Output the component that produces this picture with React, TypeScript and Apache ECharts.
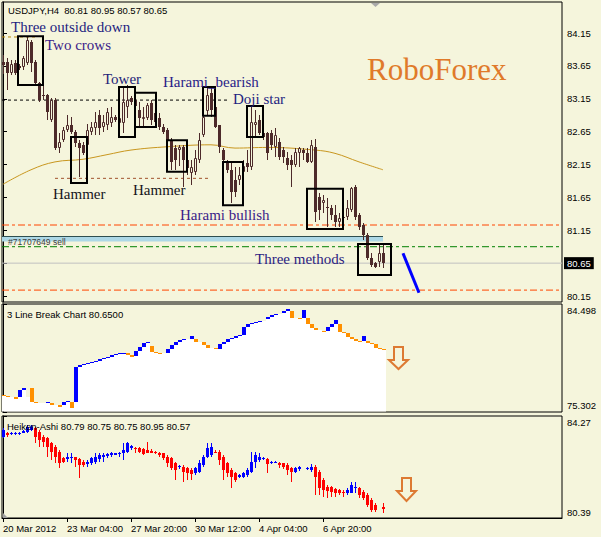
import React, { useEffect, useRef } from "react";
import * as echarts from "echarts";

const BG = "#F5F5DC";
const FONT_UI = '"Liberation Sans", Arial, sans-serif';
const FONT_SERIF = '"Liberation Serif", "Times New Roman", serif';
const CANDLE = "#4D2A2A";

const symbolTitle = "USDJPY,H4  80.81 80.95 80.57 80.65";
const lbTitle = "3 Line Break Chart 80.6500";
const haTitle = "Heiken-Ashi 80.79 80.75 80.75 80.95 80.57";
const orderLabel = "#71707649 sell";

const priceTicks = [84.15, 83.65, 83.15, 82.65, 82.15, 81.65, 81.15, 80.65, 80.15];
const priceRange = [80.059, 84.622];
const currentPrice = 80.65;
const lbRange = [75.302, 84.498];
const haRange = [80.39, 84.27];
const timeTickIdx = [0, 16, 32, 48, 64, 80];
const timeTickLabels = ["20 Mar 2012", "23 Mar 04:00", "27 Mar 20:00", "30 Mar 12:00", "4 Apr 04:00", "6 Apr 20:00"];

// [open, close, low, high]
const candles = [
  [83.71, 83.66, 83.53, 83.82], [83.71, 83.54, 83.28, 83.77], [83.54, 83.68, 83.51, 83.74], [83.69, 83.54, 83.51, 83.74],
  [83.65, 83.62, 83.59, 83.68], [83.63, 83.77, 83.59, 83.80], [83.69, 84.04, 83.66, 84.09], [84.01, 83.69, 83.56, 84.04],
  [83.71, 83.39, 83.36, 83.74], [83.39, 83.13, 83.10, 83.40], [83.21, 83.19, 83.13, 83.36], [83.21, 82.95, 82.83, 83.22],
  [82.83, 83.13, 82.80, 83.16], [83.13, 82.40, 82.37, 83.16], [82.40, 82.49, 82.33, 82.63], [82.52, 82.68, 82.49, 82.72],
  [82.68, 82.75, 82.64, 82.90], [82.75, 82.64, 82.61, 82.87], [82.64, 82.48, 82.42, 82.68], [82.48, 82.40, 81.96, 82.52],
  [82.45, 82.32, 82.30, 82.49], [82.45, 82.68, 82.37, 82.77], [82.64, 82.72, 82.60, 82.80], [82.71, 82.80, 82.60, 82.95],
  [82.90, 82.71, 82.60, 82.98], [82.72, 82.80, 82.64, 82.90], [82.75, 82.95, 82.68, 83.01], [82.78, 82.87, 82.72, 83.03],
  [82.87, 82.83, 82.80, 82.90], [82.78, 82.86, 82.72, 82.89], [82.78, 83.10, 82.63, 83.33], [83.02, 83.13, 82.86, 83.36],
  [83.16, 83.10, 83.06, 83.19], [83.13, 83.04, 82.95, 83.19], [82.98, 82.86, 82.72, 83.10], [82.84, 82.87, 82.72, 83.02],
  [82.86, 83.06, 82.83, 83.09], [83.09, 82.83, 82.75, 83.13], [82.93, 82.80, 82.75, 82.98], [82.86, 82.72, 82.68, 82.93],
  [82.72, 82.64, 82.61, 82.77], [82.68, 82.52, 82.49, 82.71], [82.52, 82.19, 82.07, 82.55], [82.40, 82.22, 82.07, 82.45],
  [82.37, 82.42, 82.13, 82.45], [82.42, 82.22, 81.81, 82.45], [82.22, 82.10, 81.99, 82.26], [82.02, 82.11, 81.84, 82.22],
  [82.04, 82.25, 81.99, 82.37], [82.22, 82.52, 82.17, 82.63], [82.60, 82.87, 82.57, 82.90], [82.96, 83.21, 82.90, 83.31],
  [83.24, 82.98, 82.87, 83.31], [83.03, 82.72, 82.71, 83.09], [82.75, 82.42, 82.33, 82.75], [82.37, 82.22, 82.19, 82.40],
  [82.17, 82.07, 82.02, 82.22], [82.07, 81.73, 81.56, 82.17], [81.91, 81.73, 81.66, 82.11], [81.91, 81.99, 81.84, 82.11],
  [82.04, 82.13, 81.99, 82.22], [82.17, 82.11, 82.04, 82.37], [82.11, 82.80, 82.07, 83.02], [82.75, 82.80, 82.57, 82.98],
  [82.83, 82.63, 82.60, 82.90], [82.63, 82.57, 82.52, 82.70], [82.63, 82.32, 82.22, 82.64], [82.63, 82.45, 82.37, 82.68],
  [82.42, 82.60, 82.26, 82.70], [82.49, 82.26, 82.22, 82.55], [82.37, 82.26, 82.17, 82.42], [82.25, 82.14, 82.07, 82.34],
  [82.22, 82.14, 81.81, 82.30], [82.14, 82.34, 82.11, 82.40], [82.32, 82.40, 82.11, 82.42], [82.37, 82.32, 82.22, 82.40],
  [82.32, 82.19, 82.17, 82.40], [82.19, 82.45, 82.17, 82.52], [82.42, 81.43, 81.28, 82.54], [81.66, 81.46, 81.31, 81.72],
  [81.57, 81.61, 81.41, 81.69], [81.50, 81.49, 81.20, 81.64], [81.49, 81.38, 81.31, 81.53], [81.38, 81.28, 81.20, 81.53],
  [81.28, 81.34, 81.20, 81.41], [81.35, 81.34, 81.31, 81.38], [81.35, 81.49, 81.31, 81.61], [81.46, 81.79, 81.43, 81.81],
  [81.81, 81.35, 81.31, 81.84], [81.38, 81.20, 81.15, 81.41], [81.23, 81.08, 81.00, 81.26], [81.08, 80.73, 80.70, 81.11],
  [80.73, 80.62, 80.59, 80.80], [80.65, 80.59, 80.58, 80.67], [80.67, 80.80, 80.59, 80.93], [80.81, 80.65, 80.57, 80.95],
];

// moving average, [bar index, value]
const maPoints = [
  [0, 81.85], [7, 82.07], [13, 82.19], [20, 82.23], [26, 82.30], [32, 82.37], [41, 82.42],
  [52, 82.45], [58, 82.40], [66, 82.41], [78, 82.37], [83, 82.32], [89, 82.19], [95, 82.07],
];

// level lines
const topDashLevel = 84.09;
const topDashSpan = [-0.25, 8.5];
const patternDashLevel = 83.13;
const patternDashSpan = [-0.25, 56.5];
const hammerDashLevel = 81.94;
const hammerDashSpan = [13, 51.5];
const redLevelHigh = 81.23;
const greenLevel = 80.9;
const redLevelLow = 80.24;
const fullSpan = [-0.25, 139.75];
const tradeBandSpan = [-0.25, 95];
const tradeBandPrices = [81.06, 80.98];
const trendArrow = [[100, 80.8], [104, 80.2]];

// pattern boxes: [x0, x1, top price, bottom price]
const patternBoxes = [
  [3.75, 10, 84.1, 83.36],
  [29, 33, 83.33, 82.57],
  [33, 38.25, 83.24, 82.72],
  [17, 21, 82.57, 81.87],
  [41, 46, 82.52, 82.04],
  [50, 53, 83.33, 82.89],
  [55, 60, 82.19, 81.53],
  [61, 65, 83.04, 82.57],
  [76, 85, 81.78, 81.17],
  [88.75, 97, 80.94, 80.47],
];

// 3 line break: low, high, direction (1 up, -1 down, 0 none)
const lbLow = [
  76.66, 76.61, 76.61, 76.41, 76.61, 77.18, 76.61, 76.18, 76.10, 76.10, 76.10, 76.07, 75.93, 75.93, 75.76, 75.90,
  76.15, 75.67, 76.15, 79.16, 79.28, 79.39, 79.50, 79.59, 79.67, 79.79, 79.87, 80.01, 80.16, 80.24, 80.30, 80.16,
  79.96, 80.10, 80.50, 80.87, 81.15, 80.44, 80.35, 80.30, 80.30, 80.30, 80.67, 81.01, 81.23, 81.43, 81.55, 81.55,
  81.29, 81.29, 81.01, 80.72, 80.72, 80.64, 80.67, 81.09, 81.29, 81.49, 81.63, 81.77, 81.89, 82.57, 82.77, 82.85,
  82.94, 83.05, 83.19, 83.36, 83.53, 83.65, 83.70, 83.90, 83.33, 83.33, 83.19, 83.33, 82.80, 82.43, 82.28, 82.28,
  82.09, 82.23, 82.57, 82.80, 82.14, 82.00, 81.72, 81.49, 81.35, 81.29, 81.38, 81.21, 81.09, 80.72, 80.64, 80.62,
];
const lbHigh = [
  76.72, 76.66, 76.61, 76.55, 77.18, 77.35, 76.61, 77.35, 76.18, 76.10, 76.10, 76.15, 76.07, 75.93, 75.90, 76.15,
  76.27, 76.15, 79.16, 79.30, 79.39, 79.50, 79.59, 79.67, 79.79, 79.87, 80.01, 80.16, 80.24, 80.30, 80.35, 80.30,
  80.16, 80.50, 80.87, 81.15, 81.29, 80.95, 80.44, 80.35, 80.30, 80.67, 81.01, 81.23, 81.43, 81.55, 81.55, 81.77,
  81.55, 81.29, 81.29, 81.01, 80.72, 80.72, 81.09, 81.29, 81.49, 81.63, 81.77, 81.89, 82.57, 82.77, 82.85, 82.94,
  83.05, 83.05, 83.36, 83.53, 83.65, 83.65, 83.90, 84.04, 83.90, 83.33, 83.33, 83.99, 83.28, 82.80, 82.43, 82.28,
  82.23, 82.57, 82.80, 83.14, 82.80, 82.14, 82.00, 81.72, 81.49, 81.38, 81.77, 81.38, 81.21, 81.09, 80.72, 80.65,
];
const lbDir = [
  -1, -1, 0, -1, 1, 1, 0, -1, -1, 0, 0, 1, -1, 0, -1, 1,
  1, -1, 1, 1, 1, 1, 1, 1, 1, 1, 1, 1, 1, 1, 1, -1,
  -1, 1, 1, 1, 1, -1, -1, -1, 0, 1, 1, 1, 1, 1, 0, 1,
  -1, 0, -1, -1, 0, -1, 1, 1, 1, 1, 1, 1, 1, 1, 1, 1,
  1, 0, 1, 1, 1, 0, 1, 1, -1, 0, -1, 1, -1, -1, -1, 0,
  -1, 1, 1, 1, -1, -1, -1, -1, -1, -1, 1, -1, -1, -1, -1, -1,
];

// Heiken Ashi [open, close, low, high]
const haBars: (number[] | null)[] = [
  [83.48, 83.74, 83.42, 83.8], [83.61, 83.56, 83.48, 83.67], [83.585, 83.64, 83.55, 83.67], [83.585, 83.64, 83.55, 83.67],
  [83.61, 83.64, 83.56, 83.67], [83.64, 83.71, 83.61, 83.74], [83.67, 83.86, 83.61, 83.93], [83.74, 83.86, 83.71, 83.93],
  [83.8, 83.48, 83.23, 83.86], [83.67, 83.36, 83.1, 83.74], [83.48, 83.29, 83.1, 83.55], [83.42, 83.1, 82.72, 83.48],
  [83.23, 82.91, 82.6, 83.29], [83.1, 82.72, 82.47, 83.17], [82.91, 82.47, 82.28, 82.98], [82.66, 82.53, 82.47, 82.72],
  [82.62, 82.72, 82.53, 82.85], [82.66, 82.72, 82.49, 82.88], [82.7, 82.6, 82.34, 82.72], [82.62, 82.4, 81.9, 82.66],
  [82.53, 82.4, 82.34, 82.6], [82.44, 82.53, 82.34, 82.6], [82.47, 82.66, 82.4, 82.72], [82.53, 82.72, 82.44, 82.88],
  [82.62, 82.79, 82.53, 82.88], [82.72, 82.79, 82.53, 82.85], [82.75, 82.82, 82.66, 82.88], [82.79, 82.88, 82.72, 82.91],
  [82.79, 82.85, 82.79, 82.85], [82.82, 82.85, 82.72, 82.89], [82.85, 82.98, 82.6, 83.23], [82.91, 83.23, 82.85, 83.29],
  [83.04, 83.13, 82.98, 83.17], [83.04, 83.0, 82.85, 83.08], [83.04, 82.91, 82.85, 83.08], [83.0, 82.82, 82.79, 83.04],
  [82.98, 82.88, 82.85, 83.29], [82.95, 82.88, 82.85, 83.0], [82.91, 82.85, 82.82, 82.95], [82.88, 82.79, 82.72, 82.91],
  [82.85, 82.66, 82.6, 82.88], [82.72, 82.47, 82.34, 82.79], [82.66, 82.28, 82.22, 82.72], [82.47, 82.22, 81.84, 82.53],
  [82.32, 82.37, 82.24, 82.4], [82.34, 82.15, 81.77, 82.4], [82.28, 82.09, 81.84, 82.34], [82.22, 82.06, 81.84, 82.28],
  [82.11, 82.28, 82.03, 82.34], [82.15, 82.47, 82.09, 82.6], [82.4, 82.72, 82.34, 82.79], [82.72, 83.04, 82.66, 83.23],
  [82.79, 83.1, 82.72, 83.23], [82.91, 82.88, 82.85, 82.98], [82.91, 82.6, 82.4, 82.98], [82.72, 82.22, 81.84, 82.79],
  [82.47, 82.09, 81.96, 82.53], [82.22, 81.96, 81.52, 82.28], [82.09, 81.84, 81.77, 82.15], [81.96, 82.03, 81.9, 82.06],
  [81.96, 82.09, 81.9, 82.15], [82.03, 82.22, 81.96, 82.28], [82.15, 82.53, 82.09, 82.91], [82.53, 82.79, 82.28, 82.91],
  [82.6, 82.72, 82.53, 82.85], [82.62, 82.66, 82.6, 82.7], [82.62, 82.44, 82.09, 82.66], [82.47, 82.53, 82.44, 82.57],
  [82.49, 82.53, 82.47, 82.57], [82.49, 82.4, 82.28, 82.53], [82.47, 82.32, 82.24, 82.49], [82.4, 82.22, 82.03, 82.47],
  [82.28, 82.15, 81.77, 82.34], [82.15, 82.28, 82.09, 82.34], [82.24, 82.32, 82.19, 82.37], null,
  [82.24, 82.28, 82.22, 82.34], [82.22, 82.32, 82.15, 82.44], [82.32, 81.96, 81.26, 82.4], [82.15, 81.52, 81.26, 82.22],
  [81.84, 81.46, 81.2, 81.9], [81.58, 81.43, 81.14, 81.65], [81.56, 81.39, 81.18, 81.61], [81.48, 81.35, 81.18, 81.52],
  [81.46, 81.33, 81.26, 81.48], [81.39, 81.33, 81.2, 81.46], [81.35, 81.46, 81.26, 81.52], [81.35, 81.65, 81.33, 81.77],
  [81.52, 81.56, 81.33, 81.77], [81.52, 81.26, 81.14, 81.56], [81.39, 81.14, 81.07, 81.46], [81.26, 80.88, 80.82, 81.33],
  [81.07, 80.69, 80.63, 81.14], [80.88, 80.69, 80.63, 80.95], null, [80.79, 80.75, 80.57, 80.95],
];

const X_MIN = -0.25;
const X_MAX = 139.75;

function renderCandle(params: any, api: any) {
  const x = api.value(0);
  const o = api.value(1), c = api.value(2), l = api.value(3), h = api.value(4);
  const pO = api.coord([x, o]);
  const pC = api.coord([x, c]);
  const pL = api.coord([x, l]);
  const pH = api.coord([x, h]);
  const cx = Math.round(pO[0]);
  const top = Math.round(Math.min(pO[1], pC[1]));
  const bot = Math.round(Math.max(pO[1], pC[1]));
  const children: any[] = [
    { type: "line", shape: { x1: cx + 0.5, y1: Math.round(pH[1]), x2: cx + 0.5, y2: Math.round(pL[1]) }, style: { stroke: CANDLE, lineWidth: 1 } },
  ];
  if (c >= o) {
    children.push({ type: "rect", shape: { x: cx - 0.5, y: top + 0.5, width: 2, height: Math.max(bot - top - 1, 0) }, style: { fill: BG, stroke: CANDLE, lineWidth: 1 } });
  } else {
    children.push({ type: "rect", shape: { x: cx - 1, y: top, width: 3, height: Math.max(bot - top, 1) }, style: { fill: CANDLE } });
  }
  return { type: "group", children };
}

function renderHA(params: any, api: any) {
  const x = api.value(0);
  const o = api.value(1), c = api.value(2), l = api.value(3), h = api.value(4);
  const color = c >= o ? "#0000FF" : "#FF0000";
  const pO = api.coord([x, o]);
  const pC = api.coord([x, c]);
  const pL = api.coord([x, l]);
  const pH = api.coord([x, h]);
  const cx = Math.round(pO[0]);
  const top = Math.round(Math.min(pO[1], pC[1]));
  const bot = Math.round(Math.max(pO[1], pC[1]));
  return {
    type: "group",
    children: [
      { type: "line", shape: { x1: cx + 0.5, y1: Math.round(pH[1]), x2: cx + 0.5, y2: Math.round(pL[1]) }, style: { stroke: color, lineWidth: 1 } },
      { type: "rect", shape: { x: cx - 1, y: top, width: 3, height: Math.max(bot - top, 1) }, style: { fill: color } },
    ],
  };
}

function renderLB(params: any, api: any) {
  const k = api.value(0), lo = api.value(1), hi = api.value(2), dir = api.value(3);
  const cs = params.coordSys;
  const pLo = api.coord([k, lo]);
  const pHi = api.coord([k, hi]);
  const x = Math.round(pLo[0]) - 1;
  const bottom = cs.y + cs.height - 0.5;
  const yLo = Math.round(pLo[1]);
  const yHi = Math.round(pHi[1]);
  const children: any[] = [{ type: "rect", shape: { x, y: yLo, width: 4, height: bottom - yLo }, style: { fill: "#FFFFFF" } }];
  if (dir !== 0) {
    children.push({ type: "rect", shape: { x, y: yHi, width: 4, height: Math.max(yLo - yHi, 1) }, style: { fill: dir > 0 ? "#0000FF" : "#FF9000" } });
  }
  return { type: "group", children };
}

function renderBox(params: any, api: any) {
  const a = api.coord([api.value(0), api.value(2)]);
  const b = api.coord([api.value(1), api.value(3)]);
  return { type: "rect", shape: { x: a[0], y: a[1], width: b[0] - a[0], height: b[1] - a[1] }, style: { fill: "none", stroke: "#000", lineWidth: 2 } };
}

function renderBand(params: any, api: any) {
  const a = api.coord([api.value(0), api.value(2)]);
  const b = api.coord([api.value(1), api.value(3)]);
  return {
    type: "group",
    children: [
      { type: "rect", shape: { x: a[0], y: a[1], width: b[0] - a[0], height: b[1] - a[1] }, style: { fill: "#ADD8E6" } },
      { type: "line", shape: { x1: a[0], y1: Math.round(a[1]) + 0.5, x2: b[0], y2: Math.round(a[1]) + 0.5 }, style: { stroke: "#2F4F4F", lineWidth: 1 } },
    ],
  };
}

function levelLine(span: number[], price: number, color: string, type: any, width = 1) {
  return {
    type: "line", xAxisIndex: 0, yAxisIndex: 0, silent: true, symbol: "none", z: 1,
    data: [[span[0], price], [span[1], price]],
    lineStyle: { color, width, type },
  };
}

function txt(x: number, y: number, text: string, font: string, fill: string) {
  return { type: "text", x, y, z: 100, silent: true, style: { text, font, fill, textVerticalAlign: "middle", verticalAlign: "middle" } };
}

function buildOption(): any {
  const uiFont = `9.5px ${FONT_UI}`;
  const serif = `15px ${FONT_SERIF}`;
  const gridBase = { show: true, borderColor: "#000", borderWidth: 1, backgroundColor: BG };
  const xBase = { type: "value", min: X_MIN, max: X_MAX, splitLine: { show: false } };
  const labelText = { fontSize: 9.5, fontFamily: FONT_UI, color: "#000" };
  const yBase = {
    type: "value", position: "right", splitLine: { show: false },
    axisLine: { show: true, lineStyle: { color: "#000" } },
  };
  return {
    animation: false,
    backgroundColor: BG,
    textStyle: { fontFamily: FONT_UI },
    grid: [
      { ...gridBase, left: 2, top: 2, width: 560, height: 300 },
      { ...gridBase, left: 2, top: 304, width: 560, height: 108 },
      { ...gridBase, left: 2, top: 416, width: 560, height: 102 },
    ],
    xAxis: [
      { ...xBase, gridIndex: 0, show: false },
      { ...xBase, gridIndex: 1, show: false },
      {
        ...xBase, gridIndex: 2,
        axisLine: { show: true, lineStyle: { color: "#000" } },
        axisTick: { show: true, length: 4, customValues: timeTickIdx, lineStyle: { color: "#000" } },
        axisLabel: {
          customValues: timeTickIdx, align: "left", margin: 5, ...labelText,
          formatter: (v: number) => timeTickLabels[timeTickIdx.indexOf(Math.round(v))] ?? "",
        },
      },
    ],
    yAxis: [
      {
        ...yBase, gridIndex: 0, min: priceRange[0], max: priceRange[1],
        axisTick: { show: true, length: 4, customValues: priceTicks, lineStyle: { color: "#000" } },
        axisLabel: {
          customValues: priceTicks, margin: 2,
          formatter: (v: number) => (Math.abs(v - currentPrice) < 1e-6 ? `{cur|${v.toFixed(2)}}` : `{n|${v.toFixed(2)}}`),
          rich: {
            n: { ...labelText, padding: [0, 0, 0, 3] },
            cur: { ...labelText, color: "#FFFFFF", backgroundColor: "#000", padding: [1, 3, 1, 3] },
          },
        },
      },
      {
        ...yBase, gridIndex: 1, min: lbRange[0], max: lbRange[1],
        axisTick: { show: true, length: 4, customValues: lbRange, lineStyle: { color: "#000" } },
        axisLabel: {
          customValues: lbRange, margin: 2,
          formatter: (v: number) => (v > lbRange[0] + 1 ? `{t|${v.toFixed(3)}}` : `{b|${v.toFixed(3)}}`),
          rich: { t: { ...labelText, padding: [13, 0, 0, 3] }, b: { ...labelText, padding: [0, 0, 13, 3] } },
        },
      },
      {
        ...yBase, gridIndex: 2, min: haRange[0], max: haRange[1],
        axisTick: { show: true, length: 4, customValues: haRange, lineStyle: { color: "#000" } },
        axisLabel: {
          customValues: haRange, margin: 2,
          formatter: (v: number) => (v > haRange[0] + 1 ? `{t|${v.toFixed(2)}}` : `{b|${v.toFixed(2)}}`),
          rich: { t: { ...labelText, padding: [13, 0, 0, 3] }, b: { ...labelText, padding: [0, 0, 12, 3] } },
        },
      },
    ],
    series: [
      levelLine(topDashSpan, topDashLevel, "#B8860B", [3, 3]),
      levelLine(patternDashSpan, patternDashLevel, "#000000", [3, 3]),
      levelLine(hammerDashSpan, hammerDashLevel, "#A0522D", [3, 3]),
      levelLine(fullSpan, redLevelHigh, "#FF4500", [7, 3, 3, 3]),
      levelLine(fullSpan, greenLevel, "#008000", [7, 3, 3, 3]),
      levelLine(fullSpan, currentPrice, "#C0C0C0", "solid"),
      levelLine(fullSpan, redLevelLow, "#FF4500", [7, 3, 3, 3]),
      {
        type: "custom", xAxisIndex: 0, yAxisIndex: 0, silent: true, z: 2,
        renderItem: renderBand,
        encode: { x: [0, 1], y: [2, 3] },
        data: [[tradeBandSpan[0], tradeBandSpan[1], tradeBandPrices[0], tradeBandPrices[1]]],
      },
      {
        type: "line", xAxisIndex: 0, yAxisIndex: 0, silent: true, symbol: "none", smooth: 0.4, z: 3,
        data: maPoints, lineStyle: { color: "#C8961E", width: 1 },
      },
      {
        type: "custom", xAxisIndex: 0, yAxisIndex: 0, silent: true, z: 4,
        renderItem: renderCandle,
        encode: { x: 0, y: [1, 2, 3, 4] },
        data: candles.map((c, i) => [i, ...c]),
      },
      {
        type: "custom", xAxisIndex: 0, yAxisIndex: 0, silent: true, z: 5,
        renderItem: renderBox,
        encode: { x: [0, 1], y: [2, 3] },
        data: patternBoxes,
      },
      {
        type: "line", xAxisIndex: 0, yAxisIndex: 0, silent: true, symbol: "none", z: 5,
        data: trendArrow, lineStyle: { color: "#0000FF", width: 3 },
      },
      {
        type: "custom", xAxisIndex: 1, yAxisIndex: 1, silent: true, z: 3,
        renderItem: renderLB,
        encode: { x: 0, y: [1, 2] },
        data: lbLow.map((lo, k) => [k, lo, lbHigh[k], lbDir[k]]),
      },
      {
        type: "custom", xAxisIndex: 2, yAxisIndex: 2, silent: true, z: 3,
        renderItem: renderHA,
        encode: { x: 0, y: [1, 2, 3, 4] },
        data: haBars.map((b, i) => (b ? [i, ...b] : null)).filter((d) => d !== null),
      },
    ],
    graphic: [
      txt(8, 10, symbolTitle, uiFont, "#000"),
      txt(7, 314, lbTitle, uiFont, "#000"),
      txt(7, 426, haTitle, uiFont, "#000"),
      txt(8, 242, orderLabel, `8.5px ${FONT_UI}`, "#404040"),
      txt(11, 26.5, "Three outside down", serif, "#1E1E80"),
      txt(45, 44.5, "Two crows", serif, "#3A1C88"),
      txt(103, 78.5, "Tower", serif, "#1E1E78"),
      txt(163, 81.5, "Harami_bearish", serif, "#2A1C88"),
      txt(233, 98.5, "Doji star", serif, "#1E1E80"),
      txt(53, 193.5, "Hammer", serif, "#141420"),
      txt(133, 189.5, "Hammer", serif, "#141420"),
      txt(180, 214.5, "Harami bullish", serif, "#3A1C88"),
      txt(255, 258.5, "Three methods", serif, "#2A1C80"),
      txt(367, 69, "RoboForex", `31px ${FONT_SERIF}`, "#E07A2A"),
      {
        type: "polygon", z: 100, silent: true,
        shape: { points: [[394, 347], [403, 347], [403, 360], [408, 360], [398.5, 369], [389, 360], [394, 360]] },
        style: { fill: BG, stroke: "#DD7A33", lineWidth: 2 },
      },
      {
        type: "polygon", z: 100, silent: true,
        shape: { points: [[402, 478], [411, 478], [411, 491], [416, 491], [406.5, 501], [397, 491], [402, 491]] },
        style: { fill: BG, stroke: "#DD7A33", lineWidth: 2 },
      },
      { type: "polygon", z: 100, silent: true, shape: { points: [[371, 3], [380, 3], [375.5, 7]] }, style: { fill: "#A9A9A9" } },
      { type: "polygon", z: 100, silent: true, shape: { points: [[3, 513], [3, 518], [8, 518]] }, style: { fill: "#A0A0A0" } },
    ],
  };
}

export default function App() {
  const ref = useRef<HTMLDivElement>(null);
  useEffect(() => {
    if (!ref.current) return;
    const chart = echarts.init(ref.current, null, { renderer: "svg" });
    chart.setOption(buildOption());
    return () => chart.dispose();
  }, []);
  return <div ref={ref} style={{ position: "fixed", left: 0, top: 0, width: 601, height: 537, background: BG }} />;
}
